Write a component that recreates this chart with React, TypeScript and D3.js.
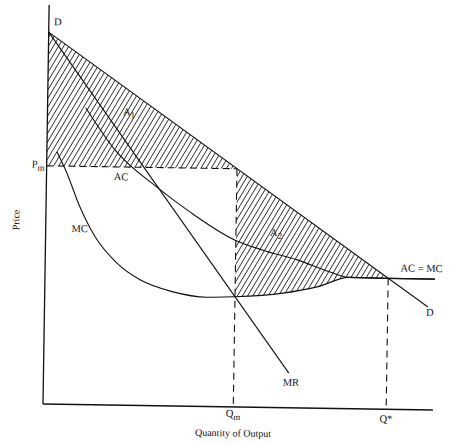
import React from "react";
import * as d3 from "d3";

// ---- data (price & quantity in arbitrary units 0..10) ----
const demand = [
  { q: 0, p: 9.32 },
  { q: 9.83, p: 2.58 },
];
const marginalRevenue = [
  { q: 0, p: 9.32 },
  { q: 6.29, p: 0.87 },
];
const acQ = [0.98, 1.75, 2.86, 3.69, 4.86, 5.58, 6.46, 7.31, 7.8, 8.8, 10];
const acP = [7.44, 6.39, 5.46, 4.87, 4.18, 3.94, 3.71, 3.42, 3.29, 3.28, 3.28];
const mcQ = [0.26, 0.52, 0.87, 1.27, 1.84, 2.44, 3.29, 4.16, 4.88, 6.11, 6.98, 7.8, 8.8, 10];
const mcP = [6.32, 5.8, 4.95, 4.21, 3.56, 3.15, 2.86, 2.74, 2.76, 2.87, 3.04, 3.29, 3.28, 3.28];
const monopolyQ = 4.88;
const monopolyP = 5.97;
const competitiveQ = 8.8;
const competitiveP = 3.28;
const axisMaxQ = 10;
const axisMaxP = 10;

const FONT = "'Liberation Serif', 'Times New Roman', serif";
const INK = "#111";

export default function App() {
  const x = d3.scaleLinear().domain([0, axisMaxQ]).range([0, 390]);
  const y = d3.scaleLinear().domain([0, axisMaxP]).range([0, -399]);

  const straight = d3
    .line<{ q: number; p: number }>()
    .x((d) => x(d.q))
    .y((d) => y(d.p));

  const acPts = acQ.map((q, i) => ({ q, p: acP[i] }));
  const mcPts = mcQ.map((q, i) => ({ q, p: mcP[i] }));

  const curve = d3
    .line<{ q: number; p: number }>()
    .x((d) => x(d.q))
    .y((d) => y(d.p))
    .curve(d3.curveMonotoneX);

  const underMC = d3
    .area<{ q: number; p: number }>()
    .x((d) => x(d.q))
    .y0(y(0) + 5)
    .y1((d) => y(d.p))
    .curve(d3.curveMonotoneX);

  const a1 = straight([
    { q: 0, p: demand[0].p },
    { q: monopolyQ, p: monopolyP },
    { q: 0, p: monopolyP },
  ]) + "Z";

  const a2 = straight([
    { q: monopolyQ, p: monopolyP },
    { q: competitiveQ, p: competitiveP },
    { q: competitiveQ, p: 0 },
    { q: monopolyQ, p: 0 },
  ]) + "Z";

  const textStyle = { fontFamily: FONT, fill: INK } as const;

  return (
    <svg
      width={456}
      height={445}
      style={{ position: "absolute", left: 0, top: 0, background: "#fff" }}
    >
      <defs>
        <pattern
          id="hatch"
          patternUnits="userSpaceOnUse"
          width={4.4}
          height={10}
          patternTransform="rotate(30)"
        >
          <line
            x1={1}
            y1={-1}
            x2={1}
            y2={11}
            stroke="#1a1a1a"
            strokeWidth={0.9}
            shapeRendering="crispEdges"
          />
        </pattern>
        <mask id="a2mask" maskUnits="userSpaceOnUse" x={-60} y={-460} width={520} height={520}>
          <path d={a2} fill="#fff" />
          <path d={underMC(mcPts) || ""} fill="#000" />
        </mask>
      </defs>
      <g transform="translate(43,404) rotate(0.88)">
        {/* hatched areas */}
        <path d={a1} fill="url(#hatch)" />
        <path d={a2} fill="url(#hatch)" mask="url(#a2mask)" />

        {/* axes */}
        <line x1={x(0)} y1={y(0)} x2={x(0)} y2={y(axisMaxP)} stroke={INK} strokeWidth={1.3} />
        <line x1={x(0)} y1={y(0)} x2={x(axisMaxQ)} y2={y(0)} stroke={INK} strokeWidth={1.3} />

        {/* dashed guides */}
        <line
          x1={x(0)}
          y1={y(monopolyP)}
          x2={x(monopolyQ)}
          y2={y(monopolyP)}
          stroke={INK}
          strokeWidth={1.1}
          strokeDasharray="7,4"
        />
        <line
          x1={x(monopolyQ)}
          y1={y(monopolyP)}
          x2={x(monopolyQ)}
          y2={y(0)}
          stroke={INK}
          strokeWidth={1.1}
          strokeDasharray="7,5"
        />
        <line
          x1={x(competitiveQ)}
          y1={y(competitiveP)}
          x2={x(competitiveQ)}
          y2={y(0)}
          stroke={INK}
          strokeWidth={1.1}
          strokeDasharray="7,5"
        />

        {/* curves */}
        <path d={straight(demand) || ""} fill="none" stroke={INK} strokeWidth={1.1} />
        <path d={straight(marginalRevenue) || ""} fill="none" stroke={INK} strokeWidth={1.1} />
        <path d={curve(acPts) || ""} fill="none" stroke={INK} strokeWidth={1.1} />
        <path d={curve(mcPts) || ""} fill="none" stroke={INK} strokeWidth={1.1} />

        {/* labels */}
        <text x={x(0) + 9} y={y(demand[0].p) - 7} fontSize={10.5} textAnchor="middle" {...textStyle}>
          D
        </text>
        <text x={75.5} y={-290} fontSize={10.5} {...textStyle}>
          A<tspan fontSize={9} dy={3}>1</tspan>
        </text>
        <text x={-2} y={y(monopolyP) + 2} fontSize={10.5} textAnchor="end" {...textStyle}>
          P<tspan fontSize={9} dy={3}>m</tspan>
        </text>
        <text x={74.5} y={-225} fontSize={10.5} textAnchor="middle" {...textStyle}>
          AC
        </text>
        <text x={34} y={-172.5} fontSize={10.5} textAnchor="middle" {...textStyle}>
          MC
        </text>
        <text x={224.5} y={-171.5} fontSize={10.5} {...textStyle}>
          A<tspan fontSize={9} dy={3}>2</tspan>
        </text>
        <text x={376.5} y={-138} fontSize={10.5} textAnchor="middle" {...textStyle}>
          AC = MC
        </text>
        <text x={385.5} y={-94} fontSize={10.5} textAnchor="middle" {...textStyle}>
          D
        </text>
        <text x={247.5} y={-22} fontSize={10.5} textAnchor="middle" {...textStyle}>
          MR
        </text>
        <text x={x(monopolyQ)} y={10} fontSize={10.5} textAnchor="middle" {...textStyle}>
          Q<tspan fontSize={9} dy={3}>m</tspan>
        </text>
        <text x={x(competitiveQ)} y={13} fontSize={10.5} textAnchor="middle" {...textStyle}>
          Q*
        </text>
        <text x={190.5} y={29.5} fontSize={10} textAnchor="middle" {...textStyle}>
          Quantity of Output
        </text>
        <text
          transform="translate(-26.5,-183.6) rotate(-90)"
          fontSize={10}
          textAnchor="middle"
          {...textStyle}
        >
          Price
        </text>
      </g>
    </svg>
  );
}
